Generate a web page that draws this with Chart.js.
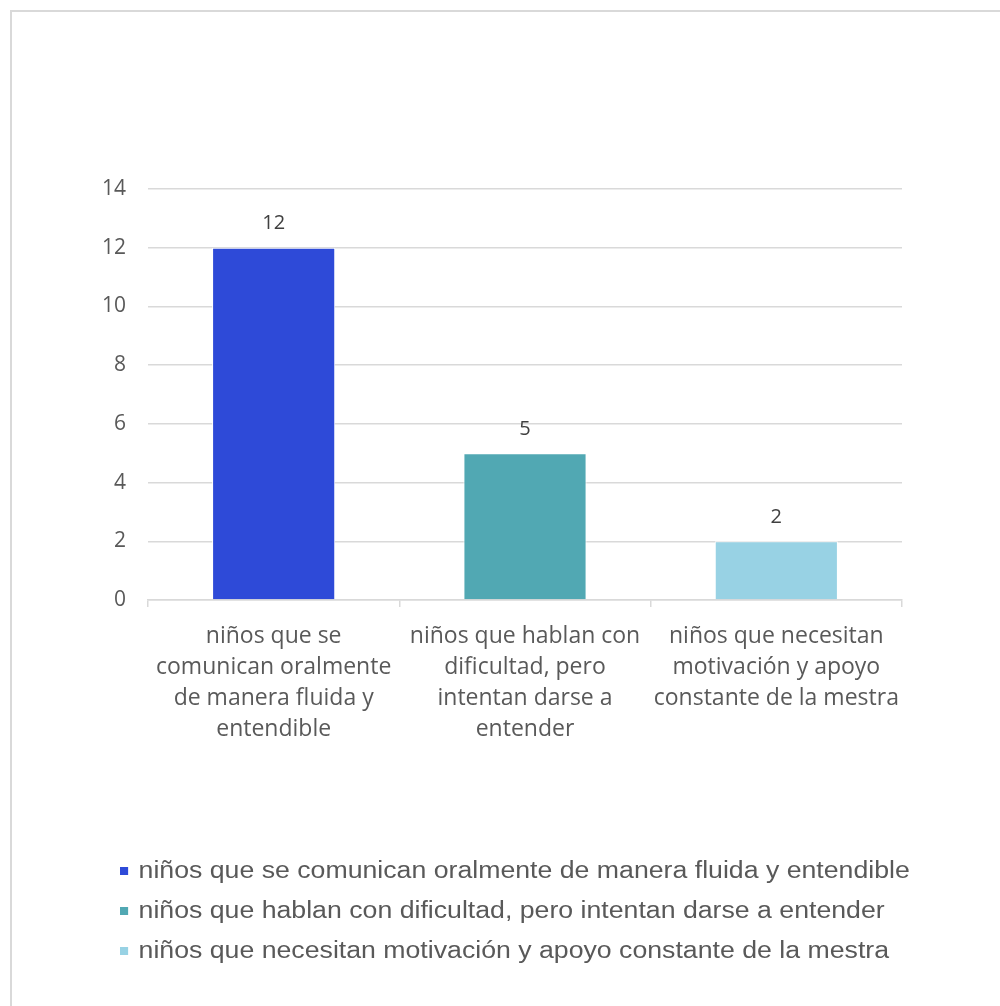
<!DOCTYPE html>
<html>
<head>
<meta charset="utf-8">
<script src="https://cdn.jsdelivr.net/npm/chart.js@4/dist/chart.umd.min.js"></script>
<style>
  html, body { margin: 0; padding: 0; background: #fff; overflow: hidden; }
  #frame { position: absolute; left: 10px; top: 10px; width: 1100px; height: 1100px; border: 2px solid #d9d9d9; }
  #wrap { position: absolute; left: 0; top: 0; width: 1000px; height: 1006px; }
  #legend { position: absolute; left: 120px; top: 850px; font-family: "Liberation Sans", Arial, sans-serif; font-size: 23px; color: #595959; transform: scaleX(1.16); transform-origin: 0 0; }
  .item { height: 40px; line-height: 40px; white-space: nowrap; }
  .box { display: inline-block; width: 7px; height: 8px; margin-right: 9px; vertical-align: 3px; }
</style>
</head>
<body>
<div id="frame"></div>
<div id="wrap"><canvas id="chart" width="1000" height="1006"></canvas></div>
<div id="legend"></div>
<script>
const categories = [
  'niños que se comunican oralmente de manera fluida y entendible',
  'niños que hablan con dificultad, pero intentan darse a entender',
  'niños que necesitan motivación y apoyo constante de la mestra'
];
const tickLabels = [
  ['niños que se', 'comunican oralmente', 'de manera fluida y', 'entendible'],
  ['niños que hablan con', 'dificultad, pero', 'intentan darse a', 'entender'],
  ['niños que necesitan', 'motivación y apoyo', 'constante de la mestra']
];
const values = [12, 5, 2];
const colors = ['#2e4ad8', '#51a8b3', '#98d2e4'];

const legendBox = document.getElementById('legend');
categories.forEach((c, i) => {
  const row = document.createElement('div');
  row.className = 'item';
  row.innerHTML = '<span class="box" style="background:' + colors[i] + '"></span>' + c;
  legendBox.appendChild(row);
});

// value labels above the bars
const valueLabels = {
  id: 'valueLabels',
  afterDatasetsDraw(chart) {
    const c = chart.ctx;
    const meta = chart.getDatasetMeta(0);
    c.save();
    c.font = '20px "Open Sans", sans-serif';
    c.fillStyle = '#404040';
    c.textAlign = 'center';
    c.textBaseline = 'middle';
    meta.data.forEach((bar, i) => {
      c.fillText(String(values[i]), bar.x, bar.y - 24);
    });
    c.restore();
  }
};

new Chart(document.getElementById('chart').getContext('2d'), {
  type: 'bar',
  data: {
    labels: tickLabels,
    datasets: [{
      data: values,
      backgroundColor: colors,
      borderColor: '#ffffff',
      borderWidth: 1,
      categoryPercentage: 0.49,
      barPercentage: 1
    }]
  },
  options: {
    responsive: false,
    animation: false,
    layout: { padding: { top: 189, left: 0, right: 98, bottom: 0 } },
    plugins: { legend: { display: false }, tooltip: { enabled: false } },
    scales: {
      x: {
        grid: { offset: true, drawOnChartArea: false, color: '#d9d9d9', lineWidth: 1.5, tickLength: 7 },
        border: { color: '#d9d9d9', width: 1.5 },
        ticks: {
          color: '#595959',
          font: { family: '"Open Sans", sans-serif', size: 23, lineHeight: 1.35 },
          padding: 14,
          maxRotation: 0,
          autoSkip: false
        },
        afterFit(scale) { scale.height = 406; }
      },
      y: {
        min: 0,
        max: 14,
        ticks: {
          stepSize: 2,
          color: '#595959',
          font: { family: '"Open Sans", sans-serif', size: 21 },
          padding: 22
        },
        grid: { color: '#d9d9d9', lineWidth: 1.5, drawTicks: false },
        border: { display: false },
        afterFit(scale) { scale.width = 148; }
      }
    }
  },
  plugins: [valueLabels]
});
</script>
</body>
</html>
